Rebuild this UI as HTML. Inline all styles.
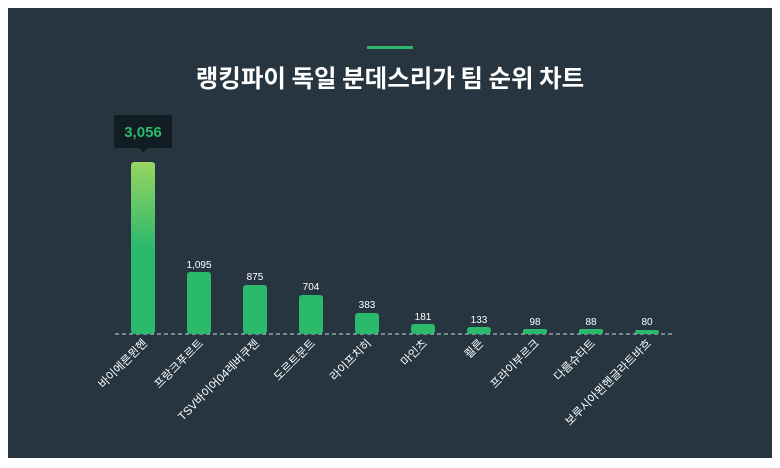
<!DOCTYPE html>
<html><head><meta charset="utf-8"><style>
body{margin:0;background:#fff;width:780px;height:468px;overflow:hidden;font-family:"Liberation Sans","Noto Sans CJK KR",sans-serif}
</style></head><body>
<svg width="780" height="468" xmlns="http://www.w3.org/2000/svg" style="position:absolute;left:0;top:0">
<defs><linearGradient id="g" x1="0" y1="0" x2="0" y2="1"><stop offset="0" stop-color="#98d560"/><stop offset="0.5" stop-color="#2bb96c"/><stop offset="1" stop-color="#2bb96c"/></linearGradient></defs>
<rect x="8" y="8" width="764" height="450" fill="#263540"/>
<rect x="367" y="46" width="46" height="3" fill="#2bb96c"/>
<text x="390" y="87" text-anchor="middle" fill="#fff" font-size="24.5" font-weight="bold" font-family="Noto Sans CJK KR, sans-serif">랭킹파이 독일 분데스리가 팀 순위 차트</text>
<line x1="115" y1="334" x2="675" y2="334" stroke="#cfd6da" stroke-width="1" stroke-dasharray="4,3"/>
<g font-size="10" fill="#fff" text-anchor="middle">
<rect x="131" y="162" width="24" height="172" rx="3" fill="url(#g)"/>
<rect x="187" y="272" width="24" height="62" rx="3" fill="#2bb96c"/><text x="199" y="268">1,095</text>
<rect x="243" y="285" width="24" height="49" rx="3" fill="#2bb96c"/><text x="255" y="280">875</text>
<rect x="299" y="295" width="24" height="39" rx="3" fill="#2bb96c"/><text x="311" y="290">704</text>
<rect x="355" y="313" width="24" height="21" rx="3" fill="#2bb96c"/><text x="367" y="308">383</text>
<rect x="411" y="324" width="24" height="10" rx="3" fill="#2bb96c"/><text x="423" y="320">181</text>
<rect x="467" y="327" width="24" height="7" rx="3" fill="#2bb96c"/><text x="479" y="323">133</text>
<rect x="523" y="329" width="24" height="5" rx="2" fill="#2bb96c"/><text x="535" y="325">98</text>
<rect x="579" y="329" width="24" height="5" rx="2" fill="#2bb96c"/><text x="591" y="325">88</text>
<rect x="635" y="330" width="24" height="4" rx="2" fill="#2bb96c"/><text x="647" y="325">80</text>
</g>
<rect x="114" y="115" width="58" height="33" rx="2" fill="#121c23"/>
<path d="M139 148 L143 153 L147 148 Z" fill="#121c23"/>
<text x="143" y="137" text-anchor="middle" fill="#2bb96c" font-size="15" font-weight="bold">3,056</text>
<g font-size="11.5" fill="#fff" text-anchor="end">
<text transform="translate(148,344) rotate(-45)">바이에른뮌헨</text>
<text transform="translate(204,344) rotate(-45)">프랑크푸르트</text>
<text transform="translate(260,344) rotate(-45)">TSV바이어04레버쿠젠</text>
<text transform="translate(316,344) rotate(-45)">도르트문트</text>
<text transform="translate(372,344) rotate(-45)">라이프치히</text>
<text transform="translate(428,344) rotate(-45)">마인츠</text>
<text transform="translate(484,344) rotate(-45)">쾰른</text>
<text transform="translate(540,344) rotate(-45)">프라이부르크</text>
<text transform="translate(596,344) rotate(-45)">다름슈타트</text>
<text transform="translate(652,344) rotate(-45)">보루시아묀헨글라트바흐</text>
</g>
</svg>
</body></html>
